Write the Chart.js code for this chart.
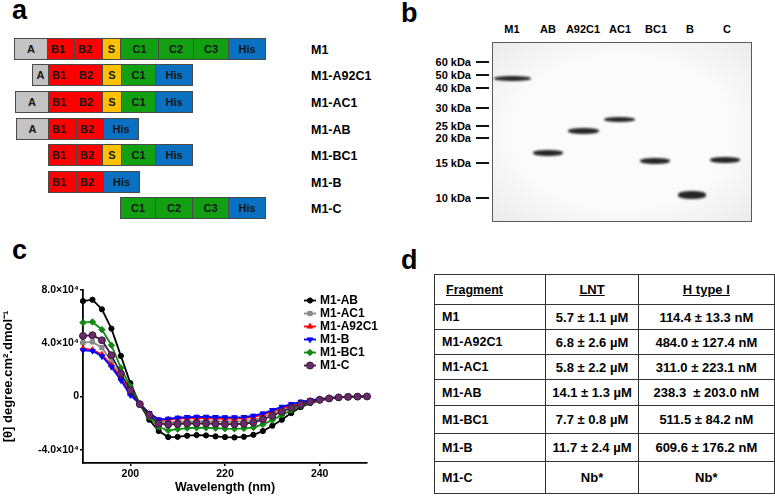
<!DOCTYPE html>
<html>
<head>
<meta charset="utf-8">
<script src="https://cdn.jsdelivr.net/npm/chart.js@4/dist/chart.umd.min.js"></script>
<style>
  body { margin: 0; background: #fff; font-family: "Liberation Sans", Arial, sans-serif; font-weight: bold; color: #000; }
  #fig { position: relative; width: 775px; height: 496px; overflow: hidden; background: #fff; }
  .plabel { position: absolute; font-size: 27px; line-height: 27px; font-weight: bold; }
  .seg { position: absolute; box-sizing: border-box; border: 1px solid #4a4a4a; font-size: 11px;
         display: flex; align-items: center; justify-content: center; color: #151515; }
  .rowname { position: absolute; font-size: 12.5px; line-height: 14px; transform: translateY(-50%); }
  .lane { position: absolute; font-size: 11px; line-height: 12px; transform: translate(-50%, -50%); }
  .kda { position: absolute; font-size: 11px; line-height: 12px; transform: translateY(-50%); text-align: right; width: 60px; }
  .dash { position: absolute; height: 2px; background: #111; }
  #gel { position: absolute; left: 492px; top: 42px; width: 260px; height: 180px; box-sizing: border-box;
         border: 1.5px solid #5a5a5a; background: radial-gradient(ellipse at center, #fbfbfb 60%, #ebebeb 100%); }
  .band { position: absolute; background: #262626; border-radius: 45%; filter: blur(1.2px); }
  #kdtable { position: absolute; left: 434px; top: 274px; border-collapse: collapse; font-size: 13px; }
  #kdtable td { border: 1.5px solid #333; padding: 0; text-align: center; }
  #kdtable td.first { text-align: left; padding-left: 7px; font-size: 12.5px; }
  #kdtable tr.head td { text-decoration: underline; }
  #kdtable tr.head td.first { padding-left: 11px; }
  #cdwrap { position: absolute; left: 0; top: 240px; width: 390px; height: 256px; }
</style>
</head>
<body>
<div id="fig">
  <div class="plabel" style="left:12px; top:-3px;">a</div>
  <div class="plabel" style="left:401px; top:0px;">b</div>
  <div class="plabel" style="left:12px; top:237px;">c</div>
  <div class="plabel" style="left:401px; top:247px;">d</div>
  <div id="panelA"></div>
  <div id="panelB"><div id="gel"></div></div>
  <div id="cdwrap"><canvas id="cdChart"></canvas></div>
  <table id="kdtable"></table>
</div>

<script>
// ---- panel c : CD spectra ----
const wavelengths = [190, 192, 194, 196, 198, 200, 202, 204, 206, 208, 210, 212, 214, 216, 218, 220,
                     222, 224, 226, 228, 230, 232, 234, 236, 238, 240, 242, 244, 246, 248, 250];

const m1AB = [71700, 72700, 65500, 51000, 30500, 10000, -6000, -17500, -26000, -30500, -30300, -29500,
              -29000, -29300, -30000, -30500, -30800, -30300, -28800, -26000, -22000, -17500, -12500,
              -8000, -5000, -3000, -1800, -800, -300, -100, 0];
const m1AC1 = [40500, 41000, 36700, 26000, 14700, 3300, -5700, -13500, -19000, -19500, -19000, -18700,
               -18500, -18500, -18700, -18800, -18800, -18500, -17800, -15800, -13000, -10200, -7500,
               -5300, -3500, -2200, -1300, -600, -300, -100, 0];
const m1A92C1 = [36000, 35000, 31500, 23500, 13500, 2000, -5600, -13000, -17800, -17300, -16600, -16300,
                 -16200, -16300, -16400, -16600, -16600, -16300, -15500, -13800, -11300, -8800, -6500,
                 -4500, -3000, -2000, -1200, -600, -300, -100, 0];
const m1B = [34700, 34200, 30200, 22200, 12200, 1000, -5500, -12500, -17300, -16800, -16000, -15500,
             -15300, -15300, -15500, -15700, -15700, -15500, -14500, -12800, -10300, -7800, -5800,
             -4000, -2800, -2000, -1200, -600, -300, -100, 0];
const m1BC1 = [55500, 56000, 50200, 38500, 21500, 7500, -5800, -15500, -23000, -25500, -24500, -23800,
               -23500, -23500, -23800, -24200, -24300, -24000, -23300, -21000, -17800, -14000, -10300,
               -7000, -4500, -2500, -1500, -700, -300, -100, 0];
const m1C = [45500, 46000, 42200, 31000, 17200, 4700, -5800, -14000, -20500, -21000, -20700, -20300,
             -20200, -20300, -20500, -20800, -20800, -20500, -19500, -17300, -14500, -11500, -8500,
             -6000, -4000, -2500, -1500, -700, -300, -100, 0];

const seriesNames = ['M1-AB', 'M1-AC1', 'M1-A92C1', 'M1-B', 'M1-BC1', 'M1-C'];
const xTickValues = [200, 220, 240];
const yTickValues = [-40000, 0, 40000, 80000];
const yTickLabels = ['-4.0×10⁴', '0', '4.0×10⁴', '8.0×10⁴'];

// ---- panel d : binding table ----
const fragments = ['M1', 'M1-A92C1', 'M1-AC1', 'M1-AB', 'M1-BC1', 'M1-B', 'M1-C'];
const lntKd = ['5.7 ± 1.1 µM', '6.8 ± 2.6 µM', '5.8 ± 2.2 µM', '14.1 ± 1.3 µM', '7.7 ± 0.8 µM', '11.7 ± 2.4 µM', 'Nb*'];
const hTypeKd = ['114.4 ± 13.3 nM', '484.0 ± 127.4 nM', '311.0 ± 223.1 nM', '238.3  ± 203.0 nM', '511.5 ± 84.2 nM', '609.6 ± 176.2 nM', 'Nb*'];

// ---- panel b : gel labels ----
const laneLabels = ['M1', 'AB', 'A92C1', 'AC1', 'BC1', 'B', 'C'];
const markerLabels = ['60 kDa', '50 kDa', '40 kDa', '30 kDa', '25 kDa', '20 kDa', '15 kDa', '10 kDa'];

// ---- panel a : construct names ----
const constructNames = ['M1', 'M1-A92C1', 'M1-AC1', 'M1-AB', 'M1-BC1', 'M1-B', 'M1-C'];
const constructDomains = [
  ['A', 'B1', 'B2', 'S', 'C1', 'C2', 'C3', 'His'],
  ['A', 'B1', 'B2', 'S', 'C1', 'His'],
  ['A', 'B1', 'B2', 'S', 'C1', 'His'],
  ['A', 'B1', 'B2', 'His'],
  ['B1', 'B2', 'S', 'C1', 'His'],
  ['B1', 'B2', 'His'],
  ['C1', 'C2', 'C3', 'His']
];

// layout of panel a (pixel edges of every box, per row)
const rowTops = [38, 64, 91, 118, 144, 171, 197];
const rowEdges = [
  [14, 47, 74, 102, 120, 158, 193, 228, 265],
  [32, 48, 75, 102, 121, 155, 192],
  [15, 48, 75, 102, 121, 155, 192],
  [16, 48, 76, 103, 138],
  [48, 76, 102, 121, 155, 192],
  [48, 76, 103, 139],
  [120, 155, 192, 228, 265]
];
const domainColor = { A: '#c3c3c3', B1: '#ff0000', B2: '#ff0000', S: '#ffc000', C1: '#12a012', C2: '#12a012', C3: '#12a012', His: '#0a70c2' };

const panelA = document.getElementById('panelA');
constructDomains.forEach((doms, r) => {
  doms.forEach((d, k) => {
    const el = document.createElement('div');
    el.className = 'seg';
    const x0 = rowEdges[r][k], x1 = rowEdges[r][k + 1];
    el.style.left = x0 + 'px';
    el.style.top = rowTops[r] + 'px';
    el.style.width = (x1 - x0 + 1) + 'px';
    el.style.height = '22px';
    el.style.background = domainColor[d];
    if (d === 'B1' || d === 'B2') { el.style.justifyContent = 'flex-start'; el.style.paddingLeft = '3px'; }
    el.textContent = d;
    panelA.appendChild(el);
  });
  const nm = document.createElement('div');
  nm.className = 'rowname';
  nm.style.left = '311px';
  nm.style.top = (rowTops[r] + 12) + 'px';
  nm.textContent = constructNames[r];
  panelA.appendChild(nm);
});

// panel b
const panelB = document.getElementById('panelB');
const laneX = [512, 548, 583, 620, 656, 690, 727];
laneLabels.forEach((t, i) => {
  const el = document.createElement('div');
  el.className = 'lane';
  el.style.left = laneX[i] + 'px';
  el.style.top = '29px';
  el.textContent = t;
  panelB.appendChild(el);
});
const markerY = [62, 75, 88, 108, 126, 138, 163, 198];
markerLabels.forEach((t, i) => {
  const el = document.createElement('div');
  el.className = 'kda';
  el.style.left = '411px';
  el.style.top = markerY[i] + 'px';
  el.textContent = t;
  panelB.appendChild(el);
  const d = document.createElement('div');
  d.className = 'dash';
  d.style.left = '476px';
  d.style.width = '13px';
  d.style.top = (markerY[i] - 1) + 'px';
  panelB.appendChild(d);
});
// bands: [left, right, centre y, thickness] in page px
const bandBoxes = [[494, 531, 78, 5], [533, 563, 153, 6], [568, 599, 131, 6], [604, 635, 119, 5],
                   [640, 670, 161, 6], [678, 706, 195, 8], [710, 740, 160, 6]];
const gel = document.getElementById('gel');
bandBoxes.forEach(b => {
  const el = document.createElement('div');
  el.className = 'band';
  el.style.left = (b[0] - 493) + 'px';
  el.style.width = (b[1] - b[0]) + 'px';
  el.style.top = (b[2] - b[3] / 2 - 43) + 'px';
  el.style.height = b[3] + 'px';
  gel.appendChild(el);
});

// panel d
const rowHeights = [29, 24, 24, 24, 25, 27, 27, 31];
const table = document.getElementById('kdtable');
const head = ['Fragment', 'LNT', 'H type I'];
const colW = [106, 93, 140];
[head].concat(fragments.map((f, i) => [f, lntKd[i], hTypeKd[i]])).forEach((cells, r) => {
  const tr = document.createElement('tr');
  if (r === 0) tr.className = 'head';
  cells.forEach((c, k) => {
    const td = document.createElement('td');
    if (k === 0) td.className = 'first';
    td.style.width = colW[k] + 'px';
    td.style.height = rowHeights[r] + 'px';
    td.style.whiteSpace = 'pre';
    td.textContent = c;
    tr.appendChild(td);
  });
  table.appendChild(tr);
});

// ---- chart ----
const pts = arr => wavelengths.map((w, i) => ({ x: w, y: arr[i] }));

// legend drawn inside the plot area, like the original
const cdLegend = {
  id: 'cdLegend',
  afterDatasetsDraw(chart) {
    const ctx = chart.ctx;
    ctx.save();
    ctx.font = 'bold 12px "Liberation Sans", Arial, sans-serif';
    ctx.textBaseline = 'middle';
    chart.data.datasets.forEach((ds, i) => {
      const y = 60.5 + i * 13;
      ctx.strokeStyle = ds.borderColor;
      ctx.lineWidth = 1.8;
      ctx.beginPath(); ctx.moveTo(304, y); ctx.lineTo(316, y); ctx.stroke();
      ctx.fillStyle = ds.pointBackgroundColor;
      ctx.strokeStyle = ds.pointBorderColor;
      ctx.lineWidth = 1;
      if (Chart.helpers && Chart.helpers.drawPoint) {
        Chart.helpers.drawPoint(ctx, { pointStyle: ds.pointStyle, radius: ds.pointRadius,
          rotation: ds.pointRotation || 0, borderWidth: 1 }, 310, y);
      }
      ctx.fillStyle = '#000';
      ctx.fillText(ds.label, 320, y + 0.5);
    });
    ctx.restore();
  }
};

const styles = [
  { color: '#000000', fill: '#000000', style: 'circle', r: 2.6, rot: 0, order: 6 },
  { color: '#8a8a8a', fill: '#8a8a8a', style: 'rect', r: 3, rot: 0, order: 5 },
  { color: '#ff0000', fill: '#ff0000', style: 'triangle', r: 3.2, rot: 0, order: 4 },
  { color: '#0000ff', fill: '#0000ff', style: 'triangle', r: 3.2, rot: 180, order: 3 },
  { color: '#118a11', fill: '#118a11', style: 'rectRot', r: 3.2, rot: 0, order: 2 },
  { color: '#3a1a3a', fill: '#6a2a6a', style: 'circle', r: 3.5, rot: 0, order: 1 }
];
const seriesValues = [m1AB, m1AC1, m1A92C1, m1B, m1BC1, m1C];
const axisFont = { family: '"Liberation Sans", Arial, sans-serif', size: 10.5, weight: 'bold' };

new Chart(document.getElementById('cdChart'), {
  type: 'line',
  data: {
    datasets: seriesValues.map((vals, i) => ({
      label: seriesNames[i],
      data: pts(vals),
      borderColor: styles[i].color,
      backgroundColor: styles[i].fill,
      pointBackgroundColor: styles[i].fill,
      pointBorderColor: styles[i].color,
      pointBorderWidth: 1,
      pointStyle: styles[i].style,
      pointRadius: styles[i].r,
      pointRotation: styles[i].rot,
      borderWidth: 1.8,
      tension: 0,
      clip: false,
      order: styles[i].order
    }))
  },
  options: {
    responsive: true,
    maintainAspectRatio: false,
    animation: false,
    layout: { padding: { left: 0, right: 23, top: 50, bottom: 0 } },
    plugins: { legend: { display: false }, tooltip: { enabled: false } },
    scales: {
      x: {
        type: 'linear', min: 190, max: 250,
        afterBuildTicks: s => { s.ticks = xTickValues.map(v => ({ value: v })); },
        afterFit: s => { s.height = 33; },
        grid: { drawOnChartArea: false, drawTicks: true, tickLength: 3, color: '#000', lineWidth: 1.5 },
        border: { display: true, color: '#000', width: 1.8 },
        ticks: { color: '#000', padding: 2, maxRotation: 0, font: axisFont },
        title: { display: true, text: 'Wavelength (nm)', color: '#000', padding: { top: 0, bottom: 1 },
                 font: { family: '"Liberation Sans", Arial, sans-serif', size: 12.5, weight: 'bold' } }
      },
      y: {
        min: -50000, max: 80000,
        afterBuildTicks: s => { s.ticks = yTickValues.map(v => ({ value: v })); },
        afterFit: s => { s.width = 83; },
        grid: { drawOnChartArea: false, drawTicks: true, tickLength: 3, color: '#000', lineWidth: 1.5 },
        border: { display: true, color: '#000', width: 1.8 },
        ticks: { color: '#000', padding: 1,
                 callback: v => yTickLabels[yTickValues.indexOf(v)],
                 font: axisFont },
        title: { display: true, text: '[θ] degree.cm².dmol⁻¹', color: '#000', padding: { top: 1, bottom: 0 },
                 font: { family: '"Liberation Sans", Arial, sans-serif', size: 13, weight: 'bold' } }
      }
    }
  },
  plugins: [cdLegend]
});
</script>
</body>
</html>
